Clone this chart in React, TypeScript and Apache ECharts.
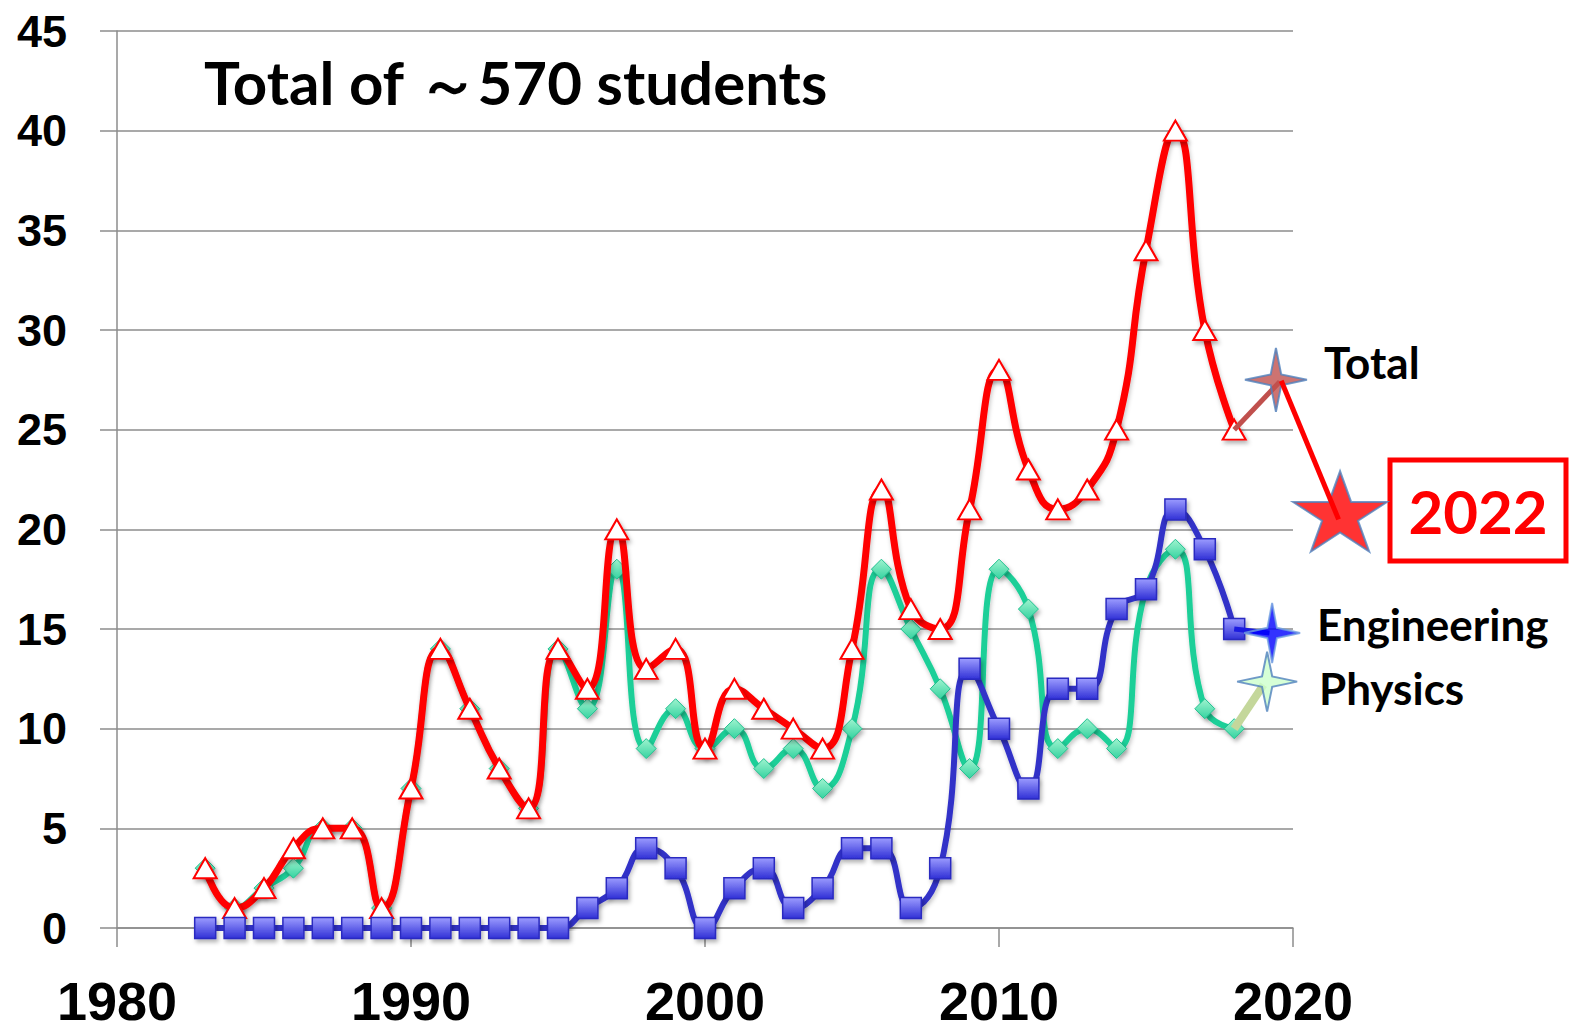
import React, { useEffect, useRef } from "react";
import * as echarts from "echarts";

const years = [1983, 1984, 1985, 1986, 1987, 1988, 1989, 1990, 1991, 1992, 1993, 1994, 1995, 1996, 1997, 1998, 1999, 2000, 2001, 2002, 2003, 2004, 2005, 2006, 2007, 2008, 2009, 2010, 2011, 2012, 2013, 2014, 2015, 2016, 2017, 2018];
const totalStudents = [3, 1, 2, 4, 5, 5, 1, 7, 14, 11, 8, 6, 14, 12, 20, 13, 14, 9, 12, 11, 10, 9, 14, 22, 16, 15, 21, 28, 23, 21, 22, 25, 34, 40, 30, 25];
const physicsStudents = [3, 1, 2, 3, 5, 5, 1, 7, 14, 11, 8, 6, 14, 11, 18, 9, 11, 9, 10, 8, 9, 7, 10, 18, 15, 12, 8, 18, 16, 9, 10, 9, 17, 19, 11, 10];
const engineeringStudents = [0, 0, 0, 0, 0, 0, 0, 0, 0, 0, 0, 0, 0, 1, 2, 4, 3, 0, 2, 3, 1, 2, 4, 4, 1, 3, 13, 10, 7, 12, 12, 16, 17, 21, 19, 15];

// projection segments and star markers (drawn beyond the 2020 axis end)
const totalTrendUp = [[2018, 25], [2019.55, 27.4]];
const totalTrendDown = [[2019.6, 27.45], [2021.55, 20.5]];
const engineeringTrend = [[2018, 15], [2019.2, 14.8]];
const physicsTrend = [[2018, 10], [2019.0, 12.2]];
const totalStar = [2019.42, 27.5];
const engineeringStar = [2019.29, 14.8];
const physicsStar = [2019.12, 12.36];
const star2022 = [2021.6, 20.9];

const titleText = "Total of ～570 students";
const seriesLabels = ["Total", "Engineering", "Physics"];
const highlightYear = "2022";

const STAR4 = "path://M0,-100 L17,-17 L100,0 L17,17 L0,100 L-17,17 L-100,0 L-17,-17 Z";
const STAR5 = "path://M0,-100 L22.45,-30.9 L95.11,-30.9 L36.33,11.8 L58.78,80.9 L0,38.2 L-58.78,80.9 L-36.33,11.8 L-95.11,-30.9 L-22.45,-30.9 Z";

const pair = (vals: number[]) => years.map((y, i) => [y, vals[i]]);

const W = 1571;
const H = 1031;
const GL = 117;
const GR = 278;
const GT = 31;
const GB = 103;
const X_MIN = 1980;
const X_MAX = 2020;
const X_MAX_EXT = 2025;

export default function App() {
  const ref = useRef<HTMLDivElement>(null);
  useEffect(() => {
    if (!ref.current) return;
    const chart = echarts.init(ref.current, undefined, { renderer: "svg" });
    const lineShadow = { shadowColor: "rgba(0,0,0,0.22)", shadowBlur: 4, shadowOffsetX: 1, shadowOffsetY: 3 };
    const markShadow = { shadowColor: "rgba(0,0,0,0.3)", shadowBlur: 4, shadowOffsetX: 2, shadowOffsetY: 3 };
    const labelFont = "Lato, 'Noto Sans', sans-serif";
    const plotW = W - GL - GR;
    const perYear = plotW / (X_MAX - X_MIN);
    const extRight = W - GL - perYear * (X_MAX_EXT - X_MIN);
    chart.setOption({
      animation: false,
      backgroundColor: "#ffffff",
      grid: [
        { left: GL, right: GR, top: GT, bottom: GB, containLabel: false },
        { left: GL, right: extRight, top: GT, bottom: GB, containLabel: false },
      ],
      xAxis: [
        {
          type: "value",
          min: X_MIN,
          max: X_MAX,
          interval: 10,
          axisLine: { show: true, lineStyle: { color: "#8c8c8c", width: 1.5 } },
          axisTick: { show: true, length: 19, lineStyle: { color: "#8c8c8c", width: 1.5 } },
          splitLine: { show: false },
          axisLabel: {
            color: "#000",
            fontFamily: "'Liberation Sans', Arial, sans-serif",
            fontWeight: "bold",
            fontSize: 54,
            margin: 46,
            formatter: (v: number) => String(v),
          },
        },
        { type: "value", gridIndex: 1, min: X_MIN, max: X_MAX_EXT, show: false },
      ],
      yAxis: [
        {
          type: "value",
          min: 0,
          max: 45,
          interval: 5,
          axisLine: { show: true, lineStyle: { color: "#8c8c8c", width: 1.5 } },
          axisTick: { show: true, length: 17, lineStyle: { color: "#8c8c8c", width: 1.5 } },
          splitLine: { show: true, lineStyle: { color: "#8c8c8c", width: 1.5 } },
          axisLabel: {
            color: "#000",
            fontFamily: "'Liberation Sans', Arial, sans-serif",
            fontWeight: "bold",
            fontSize: 45,
            margin: 50,
          },
        },
        { type: "value", gridIndex: 1, min: 0, max: 45, show: false },
      ],
      series: [
        {
          name: "Physics",
          type: "line",
          data: pair(physicsStudents),
          smooth: 0.5,
          symbol: "diamond",
          symbolSize: [20, 20],
          lineStyle: { color: "#1fcf98", width: 6, ...lineShadow },
          itemStyle: {
            color: new echarts.graphic.LinearGradient(0, 0, 0, 1, [
              { offset: 0, color: "#9ff3cf" },
              { offset: 1, color: "#35d3a0" },
            ]),
            borderColor: "#1fc08e",
            borderWidth: 1,
            ...markShadow,
          },
          z: 2,
        },
        {
          name: "Total",
          type: "line",
          data: pair(totalStudents),
          smooth: 0.5,
          symbol: "triangle",
          symbolSize: [23, 20],
          lineStyle: { color: "#ff0000", width: 7, ...lineShadow },
          itemStyle: { color: "#ffffff", borderColor: "#ff0000", borderWidth: 2, ...markShadow },
          z: 3,
        },
        {
          name: "Engineering",
          type: "line",
          data: pair(engineeringStudents),
          smooth: 0.5,
          symbol: "rect",
          symbolSize: 21,
          lineStyle: { color: "#3232c8", width: 6, ...lineShadow },
          itemStyle: {
            color: new echarts.graphic.LinearGradient(0, 0, 0, 1, [
              { offset: 0, color: "#9c9cff" },
              { offset: 1, color: "#3030d6" },
            ]),
            borderColor: "#2a2ac0",
            borderWidth: 1.5,
            ...markShadow,
          },
          z: 4,
        },
        {
          type: "line",
          xAxisIndex: 1,
          yAxisIndex: 1,
          data: totalTrendUp,
          symbol: "none",
          lineStyle: { color: "#c0504d", width: 5 },
          z: 5,
        },
        {
          type: "line",
          xAxisIndex: 1,
          yAxisIndex: 1,
          data: totalTrendDown,
          symbol: "none",
          lineStyle: { color: "#ff0000", width: 5 },
          z: 7,
        },
        {
          type: "line",
          xAxisIndex: 1,
          yAxisIndex: 1,
          data: engineeringTrend,
          symbol: "none",
          lineStyle: { color: "#1a1ae0", width: 5 },
          z: 5,
        },
        {
          type: "line",
          xAxisIndex: 1,
          yAxisIndex: 1,
          data: physicsTrend,
          symbol: "none",
          lineStyle: { color: "#c4d79b", width: 8 },
          z: 5,
        },
        {
          type: "scatter",
          xAxisIndex: 1,
          yAxisIndex: 1,
          z: 6,
          data: [
            { value: totalStar, symbol: STAR4, symbolSize: [62, 64], itemStyle: { color: "#c0504d", borderColor: "#4f81bd", borderWidth: 2 } },
            { value: engineeringStar, symbol: STAR4, symbolSize: [56, 60], itemStyle: { color: "#0000ff", borderColor: "#6f9fe0", borderWidth: 2 } },
            { value: physicsStar, symbol: STAR4, symbolSize: [60, 60], itemStyle: { color: "#ccffcc", borderColor: "#4f81bd", borderWidth: 2 } },
            { value: star2022, symbol: STAR5, symbolSize: [94, 80], itemStyle: { color: "#ff0000", borderColor: "#4f81bd", borderWidth: 2 } },
          ],
        },
      ],
      graphic: [
        {
          type: "text",
          left: 204,
          top: 52,
          style: { text: titleText, fill: "#000", font: `bold 60px ${labelFont}` },
        },
        {
          type: "text",
          left: 1324,
          top: 340,
          style: { text: seriesLabels[0], fill: "#000", font: `bold 44px ${labelFont}` },
        },
        {
          type: "text",
          left: 1317,
          top: 602,
          style: { text: seriesLabels[1], fill: "#000", font: `bold 44px ${labelFont}` },
        },
        {
          type: "text",
          left: 1319,
          top: 666,
          style: { text: seriesLabels[2], fill: "#000", font: `bold 44px ${labelFont}` },
        },
        {
          type: "rect",
          shape: { x: 1390, y: 460, width: 176, height: 101 },
          style: { fill: "#ffffff", stroke: "#ff0000", lineWidth: 5 },
        },
        {
          type: "text",
          x: 1478,
          y: 511,
          style: {
            text: highlightYear,
            fill: "#ff0000",
            font: `bold 60px ${labelFont}`,
            align: "center",
            verticalAlign: "middle",
          },
        },
      ],
    });
    return () => chart.dispose();
  }, []);
  return <div ref={ref} style={{ position: "absolute", left: 0, top: 0, width: W, height: H }} />;
}
